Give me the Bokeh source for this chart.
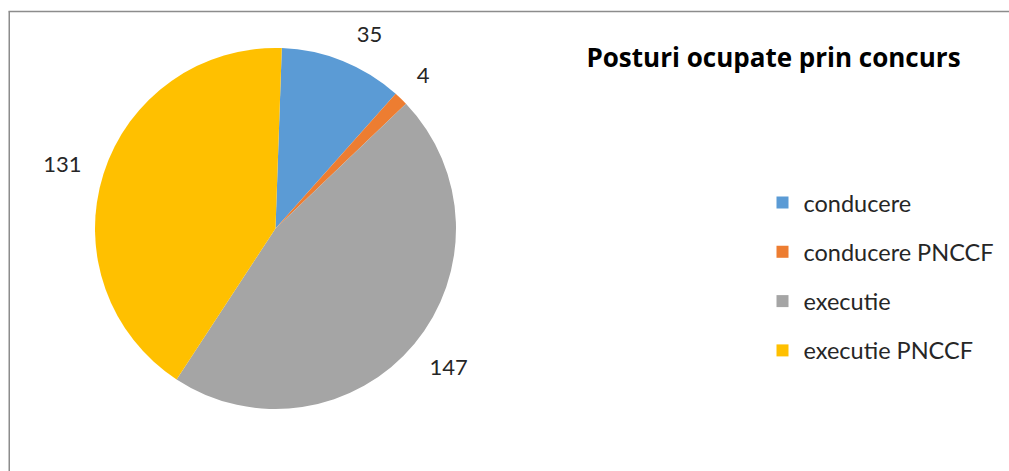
import math
from bokeh.plotting import figure
from bokeh.models import ColumnDataSource
from bokeh.core.properties import value
from bokeh.embed import file_html
from bokeh.resources import INLINE

# ---- data ----
categories = ["conducere", "conducere PNCCF", "executie", "executie PNCCF"]
counts = [35, 4, 147, 131]
colors = ["#5B9BD5", "#ED7D31", "#A5A5A5", "#FFC000"]
title = "Posturi ocupate prin concurs"

# ---- layout (figure coords = page px, y up) ----
W, H = 1009, 471
cx, cy, R = 275, H - 228, 180.5
first_slice_deg = 2.0
label_gap = 21
label_nudge_deg = [4, 0, -1, -1]
FONT = "Lato"

p = figure(width=W, height=H, x_range=(0, W), y_range=(0, H),
           output_backend="svg", toolbar_location=None,
           x_axis_type=None, y_axis_type=None, min_border=0)
p.grid.visible = False
p.outline_line_color = None
p.background_fill_color = "white"
p.border_fill_color = "white"

total = sum(counts)
starts, ends, lx, ly, ltxt = [], [], [], [], []
cum = 0
for i, c in enumerate(counts):
    a0 = first_slice_deg + 360.0 * cum / total  # clockwise from top
    a1 = first_slice_deg + 360.0 * (cum + c) / total
    starts.append(math.radians(90 - a0))
    ends.append(math.radians(90 - a1))
    mid = (a0 + a1) / 2 + label_nudge_deg[i]
    t = math.radians(mid)
    s = str(c)
    w = len(s) * 12.8
    h = 18
    ext = (w / 2) * abs(math.sin(t)) + (h / 2) * abs(math.cos(t))
    d = R + label_gap + ext
    lx.append(cx + d * math.sin(t))
    ly.append(cy + d * math.cos(t))
    ltxt.append(s)
    cum += c

src = ColumnDataSource(dict(start=starts, end=ends, color=colors))
p.wedge(x=cx, y=cy, radius=R, radius_units="screen", start_angle="start",
        end_angle="end", direction="clock", fill_color="color",
        line_color=None, source=src)

p.text(x=lx, y=ly, text=ltxt, text_font=value(FONT), text_font_size="22px",
       text_color="#262626", text_align="center", text_baseline="middle")

# title
p.text(x=[773], y=[H - 56], text=[title], text_font=value("Open Sans"),
       text_font_size="26px", text_font_style="bold", text_color="#000000",
       text_align="center", text_baseline="alphabetic")

# legend
rows_y = [H - (202 + 49.3 * i) for i in range(len(categories))]
p.rect(x=[782] * len(categories), y=rows_y, width=12, height=12,
       width_units="screen", height_units="screen", fill_color=colors,
       line_color=None)
p.text(x=[803] * len(categories), y=rows_y, text=categories,
       text_font=value(FONT), text_font_size="23.5px", text_color="#262626",
       text_align="left", text_baseline="middle")

# chart border (top and left visible)
p.segment(x0=[8, 8.75], y0=[H - 11, 0], x1=[W, 8.75], y1=[H - 11, H - 11],
          line_color="#8C8C8C", line_width=1.5)

open("out.html", "w").write(file_html(p, INLINE))
